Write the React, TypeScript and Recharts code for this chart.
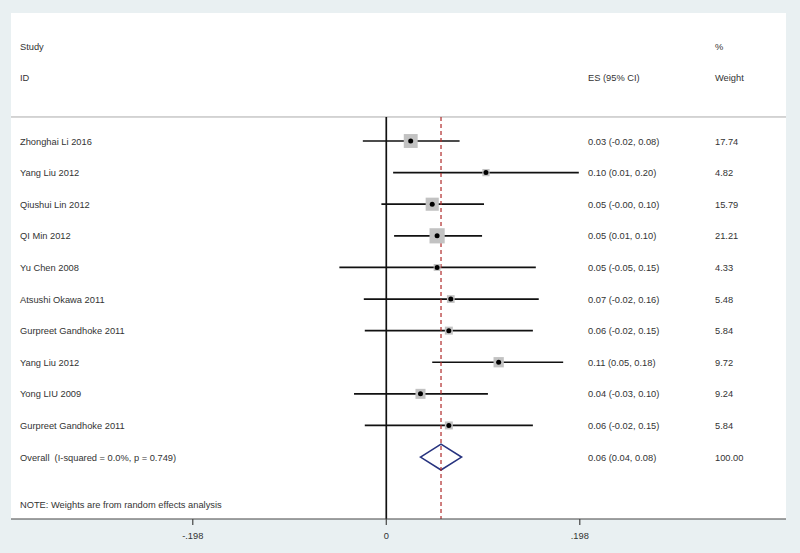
import React from 'react';
import { ComposedChart, Scatter, XAxis, YAxis, ReferenceLine, ReferenceArea, CartesianGrid } from 'recharts';

// study rows, top to bottom
const studies = [
  'Zhonghai Li 2016', 'Yang Liu 2012', 'Qiushui Lin 2012', 'QI Min 2012', 'Yu Chen 2008',
  'Atsushi Okawa 2011', 'Gurpreet Gandhoke 2011', 'Yang Liu 2012', 'Yong LIU 2009', 'Gurpreet Gandhoke 2011',
];
const esLabels = [
  '0.03 (-0.02, 0.08)', '0.10 (0.01, 0.20)', '0.05 (-0.00, 0.10)', '0.05 (0.01, 0.10)', '0.05 (-0.05, 0.15)',
  '0.07 (-0.02, 0.16)', '0.06 (-0.02, 0.15)', '0.11 (0.05, 0.18)', '0.04 (-0.03, 0.10)', '0.06 (-0.02, 0.15)',
];
const weights = [17.74, 4.82, 15.79, 21.21, 4.33, 5.48, 5.84, 9.72, 9.24, 5.84];
const es = [0.025, 0.102, 0.047, 0.052, 0.052, 0.066, 0.064, 0.115, 0.035, 0.064];
const lower = [-0.024, 0.007, -0.005, 0.008, -0.048, -0.023, -0.022, 0.047, -0.033, -0.022];
const upper = [0.075, 0.197, 0.100, 0.098, 0.153, 0.156, 0.150, 0.181, 0.104, 0.150];

const overallLabel = 'Overall  (I-squared = 0.0%, p = 0.749)';
const overallES = 0.056;
const overallLow = 0.035;
const overallHigh = 0.077;
const overallText = '0.06 (0.04, 0.08)';
const overallWeight = '100.00';
const note = 'NOTE: Weights are from random effects analysis';

const xTicks = [-0.198, 0, 0.198];
const X_MIN = -0.384;
const X_MAX = 0.409;
const Y_MIN = -4.05;
const Y_MAX = 11.96;
const HEADER_LINE = -0.76;

const FONT = '"Liberation Sans", Arial, sans-serif';
const TEXT = '#333';

// one label row per line of text: row index and the three columns
const labelRows: { y: number; study?: string; es?: string; w?: string }[] = [
  { y: -3, study: 'Study', w: '%' },
  { y: -2, study: 'ID', es: 'ES (95% CI)', w: 'Weight' },
  ...studies.map((s, i) => ({ y: i, study: s, es: esLabels[i], w: weights[i].toFixed(2) })),
  { y: 10, study: overallLabel, es: overallText, w: overallWeight },
  { y: 11.5, study: note },
];
const labelData = labelRows.map((r) => ({ ...r, x: X_MIN }));

const points = studies.map((s, i) => ({ x: es[i], y: i, w: weights[i] }));

const RowText = (props: any) => {
  const { cy, payload } = props;
  const common = { y: cy, dy: 3.5, fontSize: 9.3, fill: TEXT, fontFamily: FONT, style: { whiteSpace: 'pre' as const } };
  return (
    <g>
      {payload.study && <text x={20} textAnchor="start" {...common}>{payload.study}</text>}
      {payload.es && <text x={588} textAnchor="start" {...common}>{payload.es}</text>}
      {payload.w && <text x={715} textAnchor="start" {...common}>{payload.w}</text>}
    </g>
  );
};

const WeightBox = (props: any) => {
  const { cx, cy, payload } = props;
  const s = 3.3 * Math.sqrt(payload.w);
  return <rect x={cx - s / 2} y={cy - s / 2} width={s} height={s} fill="#c2c2c2" />;
};

const Dot = (props: any) => {
  const { cx, cy } = props;
  return <circle cx={cx} cy={cy} r={2.5} fill="#000" />;
};

const Diamond = (props: any) => {
  const { x, y, width, height } = props;
  const pts = `${x},${y + height / 2} ${x + width / 2},${y} ${x + width},${y + height / 2} ${x + width / 2},${y + height}`;
  return <polygon points={pts} fill="none" stroke="#27337f" strokeWidth={1.6} />;
};

const fmt = (v: number) => (v === 0 ? '0' : v < 0 ? '-' + String(Math.abs(v)).replace(/^0/, '') : String(v).replace(/^0/, ''));

export default function App() {
  return (
    <div style={{ position: 'absolute', left: 0, top: 0, width: 800, height: 553, background: '#e9f0f2' }}>
      <ComposedChart width={800} height={553} margin={{ top: 13, right: 14, bottom: 4, left: 11 }}>
        <CartesianGrid horizontal={false} vertical={false} fill="#fff" fillOpacity={1} />
        <XAxis
          type="number"
          dataKey="x"
          domain={[X_MIN, X_MAX]}
          allowDataOverflow
          ticks={xTicks}
          tickFormatter={fmt}
          height={30}
          tickSize={6}
          axisLine={{ stroke: '#444', strokeWidth: 1.2 }}
          tickLine={{ stroke: '#444', strokeWidth: 1.2 }}
          tick={{ fill: TEXT, fontSize: 9.3, fontFamily: FONT, dy: 5 }}
        />
        <YAxis type="number" dataKey="y" domain={[Y_MIN, Y_MAX]} reversed allowDataOverflow hide />
        <ReferenceLine segment={[{ x: X_MIN, y: HEADER_LINE }, { x: X_MAX, y: HEADER_LINE }]} stroke="#aaa" strokeWidth={1} />
        <Scatter data={labelData} shape={<RowText />} isAnimationActive={false} />
        <Scatter data={points} shape={<WeightBox />} isAnimationActive={false} />
        {studies.map((s, i) => (
          <ReferenceLine
            key={'ci' + i}
            segment={[{ x: lower[i], y: i }, { x: upper[i], y: i }]}
            stroke="#111"
            strokeWidth={1.7}
          />
        ))}
        <ReferenceLine segment={[{ x: 0, y: HEADER_LINE }, { x: 0, y: Y_MAX }]} stroke="#111" strokeWidth={1.7} />
        <ReferenceLine
          segment={[{ x: overallES, y: HEADER_LINE }, { x: overallES, y: Y_MAX }]}
          stroke="#b02a2a"
          strokeWidth={1.2}
          strokeDasharray="4 3"
        />
        <ReferenceArea
          x1={overallLow}
          x2={overallHigh}
          y1={10 - 0.41}
          y2={10 + 0.41}
          shape={<Diamond />}
        />
        <Scatter data={points} shape={<Dot />} isAnimationActive={false} />
      </ComposedChart>
    </div>
  );
}
